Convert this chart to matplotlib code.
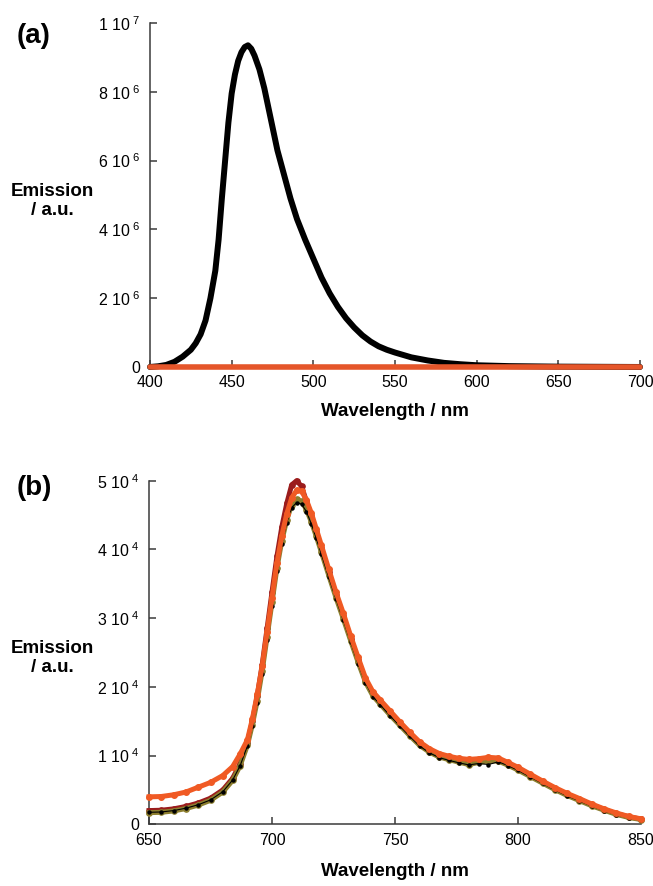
import numpy as np
import matplotlib
matplotlib.use("Agg")
import matplotlib.pyplot as plt
from matplotlib.ticker import FuncFormatter

plt.rcParams['font.family'] = ['Liberation Sans', 'DejaVu Sans']
plt.rcParams['mathtext.default'] = 'regular'

# ---- panel (a) data ----
wl_a = [400, 405, 410, 415, 420, 425, 428, 431, 434, 437, 440, 442, 444, 446, 448, 450,
        452, 454, 456, 458, 460, 462, 464, 467, 470, 474, 478, 482, 486, 490, 495, 500,
        505, 510, 515, 520, 525, 530, 535, 540, 545, 550, 560, 570, 580, 590, 600, 620,
        650, 700]
em_black_a = [0, 0.02e6, 0.06e6, 0.15e6, 0.3e6, 0.5e6, 0.69e6, 0.95e6, 1.35e6, 2.0e6, 2.8e6,
              3.7e6, 4.9e6, 6.0e6, 7.1e6, 7.95e6, 8.5e6, 8.9e6, 9.15e6, 9.3e6, 9.35e6, 9.25e6,
              9.05e6, 8.65e6, 8.1e6, 7.2e6, 6.3e6, 5.6e6, 4.9e6, 4.3e6, 3.7e6, 3.15e6, 2.6e6,
              2.14e6, 1.75e6, 1.42e6, 1.15e6, 0.92e6, 0.74e6, 0.6e6, 0.5e6, 0.42e6, 0.28e6,
              0.19e6, 0.12e6, 0.08e6, 0.05e6, 0.025e6, 0.01e6, 0]
wl_a_orange = [400, 700]
em_orange_a = [0, 0]

# ---- panel (b) data ----
wl_b = [650, 655, 660, 665, 670, 675, 680, 684, 687, 690, 692, 694, 696, 698, 700, 702,
        704, 706, 708, 710, 712, 714, 716, 718, 720, 723, 726, 729, 732, 735, 738, 741,
        744, 748, 752, 756, 760, 764, 768, 772, 776, 780, 784, 788, 792, 796, 800, 805,
        810, 815, 820, 825, 830, 835, 840, 845, 850]
em_orange_b = [4000, 4050, 4300, 4700, 5400, 6100, 7100, 8400, 10200, 12300, 15300, 18900,
               23000, 28000, 33000, 38000, 42000, 45200, 47500, 48600, 48500, 47200, 45300,
               43000, 40700, 37200, 33800, 30700, 27400, 24300, 21300, 19300, 18100, 16500,
               14900, 13400, 12000, 11000, 10300, 9900, 9600, 9450, 9550, 9750, 9650, 9000,
               8300, 7300, 6300, 5350, 4500, 3750, 2950, 2250, 1650, 1150, 800]
em_olive_b = [1700, 1750, 1950, 2300, 2800, 3500, 4700, 6400, 8500, 11500, 14500, 18000,
              22300, 27300, 32300, 37300, 41300, 44300, 46500, 47300, 47000, 45800, 44000,
              41900, 39700, 36300, 33000, 29900, 26700, 23600, 20700, 18700, 17500, 15900,
              14400, 12900, 11500, 10500, 9800, 9400, 9050, 8700, 9000, 9250, 9200, 8600,
              7900, 6950, 6000, 5050, 4200, 3450, 2700, 2050, 1450, 1000, 700]
em_red_b = [2000, 2050, 2250, 2600, 3100, 3800, 5000, 6700, 8800, 11900, 15000, 18700,
            23200, 28500, 33800, 39000, 43300, 46700, 49400, 50000, 49200, 47000, 44800,
            42500, 40200, 36700, 33400, 30300, 27000, 23900, 21000, 19000, 17700, 16100,
            14600, 13100, 11700, 10700, 10000, 9600, 9200, 8900, 9150, 9400, 9350, 8750,
            8050, 7100, 6150, 5200, 4350, 3600, 2850, 2150, 1550, 1100, 750]
em_black_b = [1750, 1800, 2000, 2350, 2850, 3550, 4750, 6450, 8500, 11400, 14300, 17700,
              21900, 26800, 31800, 36800, 40800, 43900, 46100, 46800, 46600, 45500, 43700,
              41600, 39400, 36000, 32800, 29700, 26500, 23400, 20600, 18600, 17400, 15800,
              14300, 12800, 11400, 10400, 9700, 9300, 8950, 8650, 8850, 8700, 9100, 8550,
              7850, 6900, 5950, 5000, 4150, 3400, 2650, 2000, 1400, 950, 650]


def sci_label(v, pos):
    if v == 0:
        return "0"
    e = int(np.floor(np.log10(abs(v)) + 1e-9))
    m = v / 10 ** e
    return "%d 10$^{\\ %d}$" % (round(m), e)


def style_axes(ax):
    for s in ['top', 'right']:
        ax.spines[s].set_visible(False)
    for s in ['left', 'bottom']:
        ax.spines[s].set_color('#3a3a3a')
        ax.spines[s].set_linewidth(1.1)
    ax.tick_params(direction='in', length=5, width=1.1, color='#3a3a3a',
                   labelsize=11.5)
    ax.tick_params(axis='x', pad=6)
    ax.tick_params(axis='y', pad=7)
    ax.yaxis.set_major_formatter(FuncFormatter(sci_label))


fig = plt.figure(figsize=(6.53, 8.86), dpi=100)

# (a)
ax1 = fig.add_axes([0.2297, 0.5858, 0.7504, 0.3883])
ax1.plot(wl_a, em_black_a, color='black', lw=4.3, solid_capstyle='round',
         solid_joinstyle='round', clip_on=False, zorder=3)
ax1.plot(wl_a_orange, em_orange_a, color='#e5562a', lw=4.0, solid_capstyle='round',
         clip_on=False, zorder=4)
ax1.set_xlim(400, 700)
ax1.set_ylim(0, 1e7)
ax1.set_xticks([400, 450, 500, 550, 600, 650, 700])
ax1.set_yticks([0, 2e6, 4e6, 6e6, 8e6, 1e7])
style_axes(ax1)

# (b)
ax2 = fig.add_axes([0.2282, 0.0696, 0.7534, 0.3878])
ax2.plot(wl_b, em_red_b, color='#9b1c1c', lw=3.6, marker='o', ms=3.8, clip_on=False, zorder=3)
ax2.plot(wl_b, em_olive_b, color='#8c7e2e', lw=3.6, marker='o', ms=3.8, clip_on=False, zorder=3)
ax2.plot(wl_b, em_black_b, color='black', lw=0.8, marker='o', ms=2.2, clip_on=False, zorder=3)
ax2.plot(wl_b, em_orange_b, color='#f05a24', lw=3.6, marker='o', ms=4.0, clip_on=False, zorder=4)
ax2.set_xlim(650, 850)
ax2.set_ylim(0, 5e4)
ax2.set_xticks([650, 700, 750, 800, 850])
ax2.set_yticks([0, 1e4, 2e4, 3e4, 4e4, 5e4])
style_axes(ax2)

# labels
for yy, lab in [(0.959, '(a)'), (0.449, '(b)')]:
    fig.text(0.026, yy, lab, fontsize=20, fontweight='bold', va='center', ha='left')
for yy in [0.773, 0.2573]:
    fig.text(0.08, yy, 'Emission\n/ a.u.', fontsize=13.5, fontweight='bold',
             ha='center', va='center', linespacing=1.15)
fig.text(0.605, 0.535, 'Wavelength / nm', fontsize=13.5, fontweight='bold', ha='center', va='center')
fig.text(0.605, 0.016, 'Wavelength / nm', fontsize=13.5, fontweight='bold', ha='center', va='center')

fig.savefig('out.png', dpi=100)
